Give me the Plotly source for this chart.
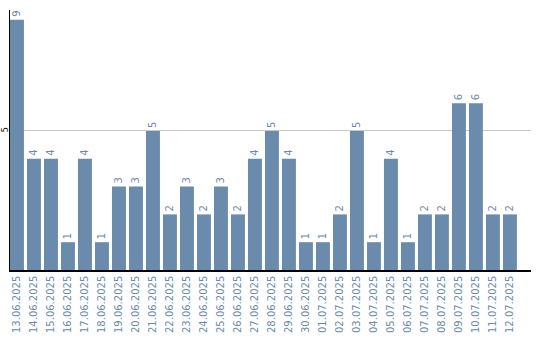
import plotly.graph_objects as go

dates = ["13.06.2025", "14.06.2025", "15.06.2025", "16.06.2025", "17.06.2025", "18.06.2025",
         "19.06.2025", "20.06.2025", "21.06.2025", "22.06.2025", "23.06.2025", "24.06.2025",
         "25.06.2025", "26.06.2025", "27.06.2025", "28.06.2025", "29.06.2025", "30.06.2025",
         "01.07.2025", "02.07.2025", "03.07.2025", "04.07.2025", "05.07.2025", "06.07.2025",
         "07.07.2025", "08.07.2025", "09.07.2025", "10.07.2025", "11.07.2025", "12.07.2025"]
values = [9, 4, 4, 1, 4, 1, 3, 3, 5, 2, 3, 2, 3, 2, 4, 5, 4, 1, 1, 2, 5, 1, 4, 1, 2, 2, 6, 6, 2, 2]

bar_color = "#6a8bab"

fig = go.Figure(go.Bar(
    x=dates, y=values,
    marker=dict(color=bar_color, line=dict(width=0)),
    text=[str(v) for v in values],
    textposition="outside",
    textangle=-90,
    textfont=dict(family="DejaVu Sans", size=10, color=bar_color),
    cliponaxis=False,
))

fig.update_layout(
    width=540, height=340,
    margin=dict(l=10, r=9, t=10, b=70),
    paper_bgcolor="white", plot_bgcolor="white",
    bargap=0.18,
    showlegend=False,
    xaxis=dict(
        type="category",
        range=[-0.41, 30.24],
        tickangle=-90,
        tickfont=dict(family="DejaVu Sans", size=10, color=bar_color),
        showline=True, linecolor="black", linewidth=1.5,
        showgrid=False, ticks="",
        automargin=False,
    ),
    yaxis=dict(
        range=[0, 9.35],
        tickvals=[5], ticktext=["5"],
        tickangle=-90,
        tickfont=dict(family="DejaVu Sans", size=8, color="black"),
        showline=True, linecolor="black", linewidth=1,
        showgrid=True, gridcolor="#c8c8c8", gridwidth=1,
        zeroline=False, ticks="",
        ticklabelstandoff=-2,
        automargin=False,
    ),
)

fig.write_html("out.html")
